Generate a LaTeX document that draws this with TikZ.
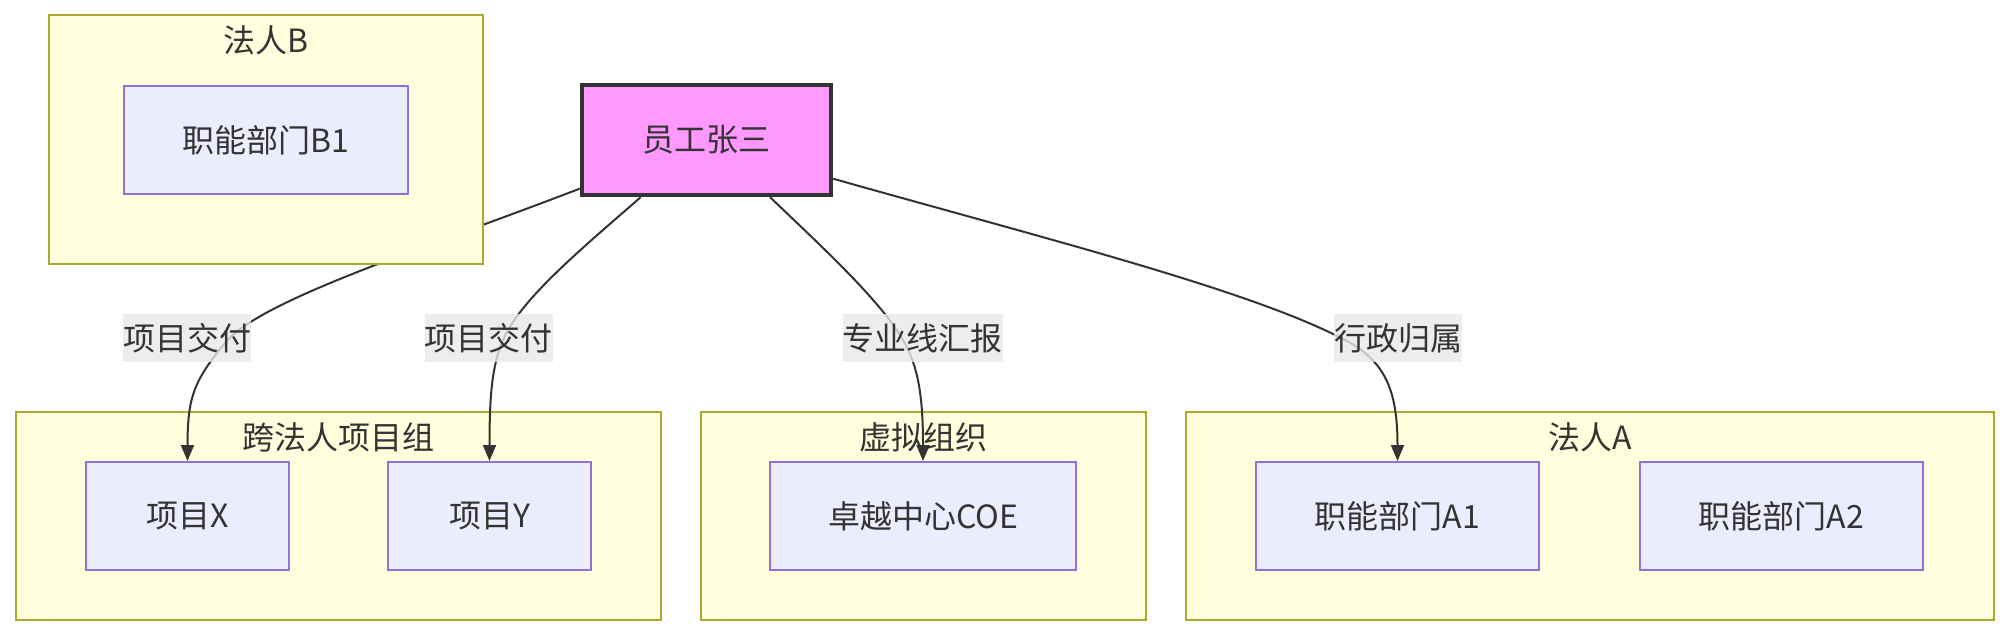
\documentclass[tikz,border=0pt]{standalone}
\usepackage{fontspec}
\setmainfont{Noto Sans CJK SC}
\usetikzlibrary{arrows.meta}
\definecolor{txt}{HTML}{333333}
\definecolor{clfill}{HTML}{FFFFDE}
\definecolor{cldraw}{HTML}{AAAA33}
\definecolor{ndfill}{HTML}{ECECFF}
\definecolor{nddraw}{HTML}{9370DB}
\definecolor{empfill}{HTML}{FF99FF}
\definecolor{lblbg}{HTML}{E8E8E8}
\tikzset{
  base/.style={font=\fontsize{32}{38}\selectfont, text=txt},
  cluster/.style={draw=cldraw, fill=clfill, line width=2pt},
  cltitle/.style={base, inner sep=0pt},
  box/.style={base, draw=nddraw, fill=ndfill, line width=2pt, minimum height=108pt, inner sep=0pt},
  empbox/.style={base, draw=txt, fill=empfill, line width=4.5pt, minimum width=249pt, minimum height=110pt, inner sep=0pt},
  edge/.style={draw=txt, line width=2pt, -{Triangle[length=16pt,width=13pt]}},
  elabel/.style={base, fill=lblbg, fill opacity=0.8, text opacity=1, inner sep=0pt, minimum height=48pt}
}
\begin{document}
\begin{tikzpicture}[x=1pt,y=-1pt]
\useasboundingbox (0,0) rectangle (2009,636);
% lower clusters
\path[cluster] (16,412) rectangle (661,620);
\path[cluster] (701,412) rectangle (1146,620);
\path[cluster] (1186,412) rectangle (1994,620);
\node[cltitle] (t1) at (338.5,437) {跨法人项目组};
\node[cltitle] (t2) at (923.5,437) {虚拟组织};
\node[cltitle] (t3) at (1590,437) {法人A};
% nodes
\node[box, minimum width=203pt] (px) at (187.5,516) {项目X};
\node[box, minimum width=203pt] (py) at (489.5,516) {项目Y};
\node[box, minimum width=306pt] (coe) at (923,516) {卓越中心COE};
\node[box, minimum width=283pt] (a1) at (1397.5,516) {职能部门A1};
\node[box, minimum width=283pt] (a2) at (1781.5,516) {职能部门A2};
\node[empbox] (emp) at (706.5,140) {员工张三};
% edges
\draw[edge] (emp.201) .. controls (420,250) and (260,300) .. (225,343)
  .. controls (195,380) and (187.5,395) .. (px.north);
\draw[edge] (emp.221) .. controls (580,250) and (520,300) .. (503,340)
  .. controls (492,366) and (489.5,395) .. (py.north);
\draw[edge] (emp.318) .. controls (820,245) and (880,300) .. (903,340)
  .. controls (918,366) and (923,395) .. (coe.north);
\draw[edge] (emp.343) .. controls (1050,240) and (1250,290) .. (1345,340)
  .. controls (1385,361) and (1397.5,390) .. (a1.north);
% edge labels
\node[elabel] (lx) at (187,338) {项目交付};
\node[elabel] (ly) at (488.5,338) {项目交付};
\node[elabel] (lc) at (922.5,338) {专业线汇报};
\node[elabel] (la) at (1398,338) {行政归属};
% upper cluster (drawn over edge)
\path[cluster] (49,15) rectangle (483,264);
\node[cltitle] (t4) at (266,40) {法人B};
\node[box, minimum width=284pt] (b1) at (266,140) {职能部门B1};
\end{tikzpicture}
\end{document}
